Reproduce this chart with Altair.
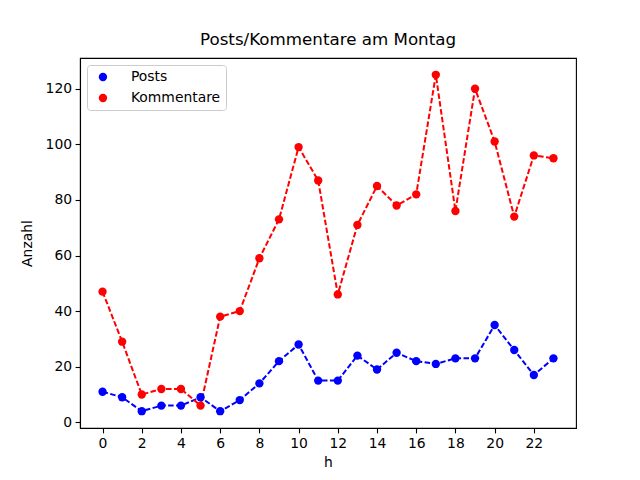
import altair as alt
import pandas as pd

hours = list(range(24))
posts = [11, 9, 4, 6, 6, 9, 4, 8, 14, 22, 28, 15, 15, 24, 19, 25, 22, 21, 23, 23, 35, 26, 17, 23]
kommentare = [47, 29, 10, 12, 12, 6, 38, 40, 59, 73, 99, 87, 46, 71, 85, 78, 82, 125, 76, 120, 101, 74, 96, 95]
series_names = ["Posts", "Kommentare"]
series_colors = ["#0000ff", "#ff0000"]
x_ticks = list(range(0, 23, 2))
y_ticks = list(range(0, 121, 20))

rows = []
for h, p in zip(hours, posts):
    rows.append({"h": h, "Anzahl": p, "Serie": "Posts"})
for h, k in zip(hours, kommentare):
    rows.append({"h": h, "Anzahl": k, "Serie": "Kommentare"})
df = pd.DataFrame(rows)

FONT = "DejaVu Sans"

x_enc = alt.X("h:Q", title="h",
              scale=alt.Scale(domain=[-1.15, 24.15], nice=False, zero=False),
              axis=alt.Axis(values=x_ticks, grid=False, titlePadding=5))
y_enc = alt.Y("Anzahl:Q", title="Anzahl",
              scale=alt.Scale(domain=[-2.05, 131.05], nice=False, zero=False),
              axis=alt.Axis(values=y_ticks, grid=False, titlePadding=11))

color_scale = alt.Scale(domain=series_names, range=series_colors)

lines = alt.Chart(df).mark_line(strokeDash=[5.55, 2.4], strokeWidth=2).encode(
    x=x_enc, y=y_enc,
    color=alt.Color("Serie:N", scale=color_scale, legend=None),
    detail="Serie:N",
)

points = alt.Chart(df).mark_point(filled=True, size=70, opacity=1, shape="circle").encode(
    x=x_enc, y=y_enc,
    color=alt.Color("Serie:N", scale=color_scale,
                    legend=alt.Legend(title=None, orient="none", legendX=7, legendY=7,
                                      symbolType="circle", symbolSize=70,
                                      symbolStrokeWidth=0,
                                      labelFontSize=13.9, labelFont=FONT,
                                      labelColor="black",
                                      fillColor="white", strokeColor="#cccccc",
                                      cornerRadius=3, padding=5,
                                      rowPadding=6, symbolOffset=4, labelOffset=21)),
)

chart = alt.layer(lines, points).resolve_legend(color="independent").properties(
    width=496, height=370,
    background="white",
    title=alt.TitleParams("Posts/Kommentare am Montag", font=FONT, fontSize=16.7,
                          fontWeight="normal", color="black", offset=9),
    autosize=alt.AutoSizeParams(type="none"),
    padding={"left": 72, "top": 50, "right": 56, "bottom": 44},
).configure_view(
    stroke="black", strokeWidth=1.1
).configure_axis(
    labelFont=FONT, labelFontSize=13.9, labelColor="black",
    titleFont=FONT, titleFontSize=13.9, titleColor="black", titleFontWeight="normal",
    domainColor="black", domainWidth=1.1, tickColor="black", tickWidth=1.1,
    tickSize=4.9, labelPadding=3.5,
)

chart.save("out.html", embed_options={"renderer": "svg", "actions": False})
